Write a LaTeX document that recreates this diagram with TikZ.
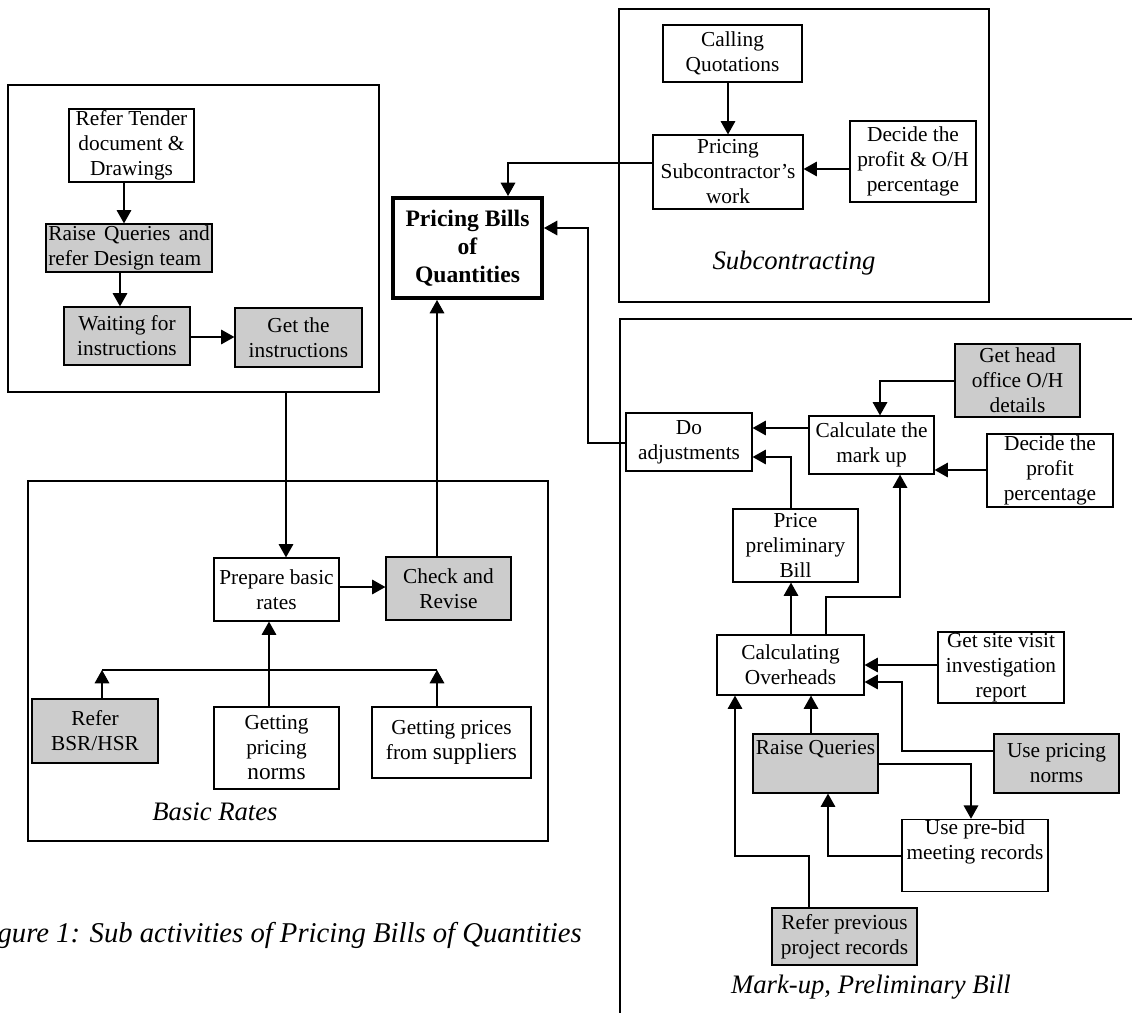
\documentclass[tikz,border=0pt]{standalone}
\usepackage{fontspec}
\setmainfont{Liberation Serif}
\usetikzlibrary{arrows.meta}
\definecolor{boxgray}{RGB}{204,204,204}
\newcommand{\bodyfont}{\fontsize{16pt}{18.75pt}\selectfont}
\newcommand{\bigw}[1]{{\fontsize{17.5pt}{18.75pt}\selectfont #1}}
\begin{document}
\begin{tikzpicture}[x=0.75pt,y=-0.75pt,
 bx/.style={draw, line width=0.9pt, inner sep=0pt, align=center, font=\bodyfont},
 gbx/.style={bx, fill=boxgray},
 sz/.style 2 args={minimum width=#1*0.75pt, minimum height=#2*0.75pt},
 cont/.style={draw, line width=0.9pt, inner sep=0pt},
 arr/.style={line width=0.9pt, -{Triangle[length=10pt,width=11pt]}},
 ln/.style={line width=0.9pt},
 lab/.style={font=\itshape\fontsize{20pt}{24pt}\selectfont, inner sep=0pt}]
\useasboundingbox (0,0) rectangle (1132,1013);
\clip (0,0) rectangle (1132,1013);

% containers
\node[cont, sz={371}{307}] (tl) at (193.5,238.5) {};
\node[cont, sz={520}{360}] (br) at (288,661) {};
\node[cont, sz={370}{293}] (sc) at (804,155.5) {};
\coordinate (mbl) at (620,1013);
\coordinate (mtl) at (620,319);
\coordinate (mtr) at (1132,319);
\draw[ln] (mbl) -- (mtl) -- (mtr);

% top-left group
\node[bx, sz={125}{73}] (tender) at (131.5,145.5) {Refer Tender\\document \&\\Drawings};
\node[gbx, sz={166}{48}, align=left] (raisea) at (129,248) {\makebox[121pt][s]{Raise Queries and}\\refer Design team};
\node[gbx, sz={126}{58}] (wait) at (127,336) {Waiting for\\instructions};
\node[gbx, sz={127}{59}] (getins) at (298.5,337.5) {Get the\\instructions};

% central node
\node[draw, line width=3pt, inner sep=0pt, align=center, sz={149}{100},
      font=\bfseries\fontsize{17.7pt}{21pt}\selectfont] (pbq) at (467.5,248) {Pricing Bills\\of\\Quantities};

% basic rates
\node[bx, sz={125}{63}] (prep) at (276.5,589.5) {Prepare basic\\rates};
\node[gbx, sz={125}{63}] (check) at (448.5,588.5) {Check and\\Revise};
\node[gbx, sz={126}{64}] (bsr) at (95,731) {Refer\\BSR/HSR};
\node[bx, sz={125}{82}] (norms) at (276.5,748) {Getting\\pricing\\\bigw{norms}};
\node[bx, sz={159}{71}] (supp) at (451.5,742.5) {Getting prices\\from \bigw{suppliers}};
\node[lab] (lbr) at (215,812) {Basic Rates};

% subcontracting
\node[bx, sz={139}{57}] (call) at (732.5,53.5) {Calling\\Quotations};
\node[bx, sz={150}{74}] (psub) at (728,172) {Pricing\\Subcontractor’s\\work};
\node[bx, sz={126}{81}] (deca) at (913,161.5) {Decide the\\profit \& O/H\\percentage};
\node[lab] (lsc) at (794,263) {Subcontracting};

% mark-up
\node[bx, sz={126}{58}] (adj) at (689,442) {Do\\adjustments};
\node[bx, sz={125}{58}] (calc) at (871.5,445) {Calculate the\\mark up};
\node[gbx, sz={125}{73}] (head) at (1017.5,380.5) {Get head\\office O/H\\details};
\node[bx, sz={126}{73}] (decb) at (1050,470.5) {Decide the\\profit\\percentage};
\node[bx, sz={125}{73}] (price) at (795.5,545.5) {Price\\preliminary\\Bill};
\node[bx, sz={147}{60}] (ovh) at (790.5,665) {Calculating\\Overheads};
\node[bx, sz={126}{71}] (site) at (1001,667.5) {Get site visit\\investigation\\report};
\node[gbx, sz={125}{59}] (rq) at (815.5,763.5) {Raise Queries\\\strut};
\node[gbx, sz={125}{59}] (use) at (1056.5,763.5) {Use pricing\\norms};
\node[bx, sz={146}{69}] (pre) at (975,855.5) {Use pre-bid\\meeting records\\\strut};
\node[gbx, sz={145}{57}] (prev) at (844.5,936.5) {Refer previous\\project records};
\node[lab] (lmu) at (871,987) {Mark-up, Preliminary Bill};

% caption
\node[font=\itshape\fontsize{21.5pt}{25pt}\selectfont, anchor=east, inner sep=0pt] (cap) at (582,935) {Figure 1: Sub activities of Pricing Bills of Quantities};

% connectors top-left
\draw[arr] (tender.south -| 124,0) -- (raisea.north -| 124,0);
\draw[arr] (raisea.south -| 120,0) -- (wait.north -| 120,0);
\draw[arr] (wait.east |- 0,337) -- (getins.west |- 0,337);
\draw[arr] (tl.south -| 286,0) -- (prep.north -| 286,0);

% basic rates connectors
\draw[arr] (prep.east |- 0,587) -- (check.west |- 0,587);
\draw[arr] (check.north -| 437,0) -- (pbq.south -| 437,0);
\draw[arr] (norms.north -| 269,0) -- (prep.south -| 269,0);
\coordinate (busl) at (102,670);
\coordinate (busr) at (437,670);
\draw[ln] (busl) -- (busr);
\draw[arr] (bsr.north -| busl) -- (busl);
\draw[arr] (supp.north -| busr) -- (busr);

% subcontracting connectors
\draw[arr] (call.south -| 728,0) -- (psub.north -| 728,0);
\draw[arr] (deca.west |- 0,169) -- (psub.east |- 0,169);
\coordinate (sbend) at (508,163);
\draw[arr] (psub.west |- sbend) -- (sbend) -- (pbq.north -| sbend);

% mark-up connectors
\draw[arr] (calc.west |- 0,428) -- (adj.east |- 0,428);
\coordinate (pbend) at (791,457);
\draw[arr] (price.north -| pbend) -- (pbend) -- (adj.east |- pbend);
\draw[arr] (ovh.north -| 791,0) -- (price.south -| 791,0);
\coordinate (oa) at (826,597);
\coordinate (ob) at (900,597);
\draw[arr] (ovh.north -| oa) -- (oa) -- (ob) -- (calc.south -| ob);
\coordinate (hb) at (880,381);
\draw[arr] (head.west |- hb) -- (hb) -- (calc.north -| hb);
\draw[arr] (decb.west |- 0,470) -- (calc.east |- 0,470);
\draw[arr] (site.west |- 0,665) -- (ovh.east |- 0,665);
\coordinate (ua) at (902,751);
\coordinate (ub) at (902,682);
\draw[arr] (use.west |- ua) -- (ua) -- (ub) -- (ovh.east |- ub);
\draw[arr] (rq.north -| 811,0) -- (ovh.south -| 811,0);
\coordinate (ra) at (971,764);
\draw[arr] (rq.east |- ra) -- (ra) -- (pre.north -| ra);
\coordinate (pa) at (828,856);
\draw[arr] (pre.west |- pa) -- (pa) -- (rq.south -| pa);
\coordinate (va) at (809,856);
\coordinate (vb) at (735,856);
\draw[arr] (prev.north -| va) -- (va) -- (vb) -- (ovh.south -| vb);
\coordinate (da) at (588,443);
\coordinate (db) at (588,228);
\draw[arr] (adj.west |- da) -- (da) -- (db) -- (pbq.east |- db);
\end{tikzpicture}
\end{document}
